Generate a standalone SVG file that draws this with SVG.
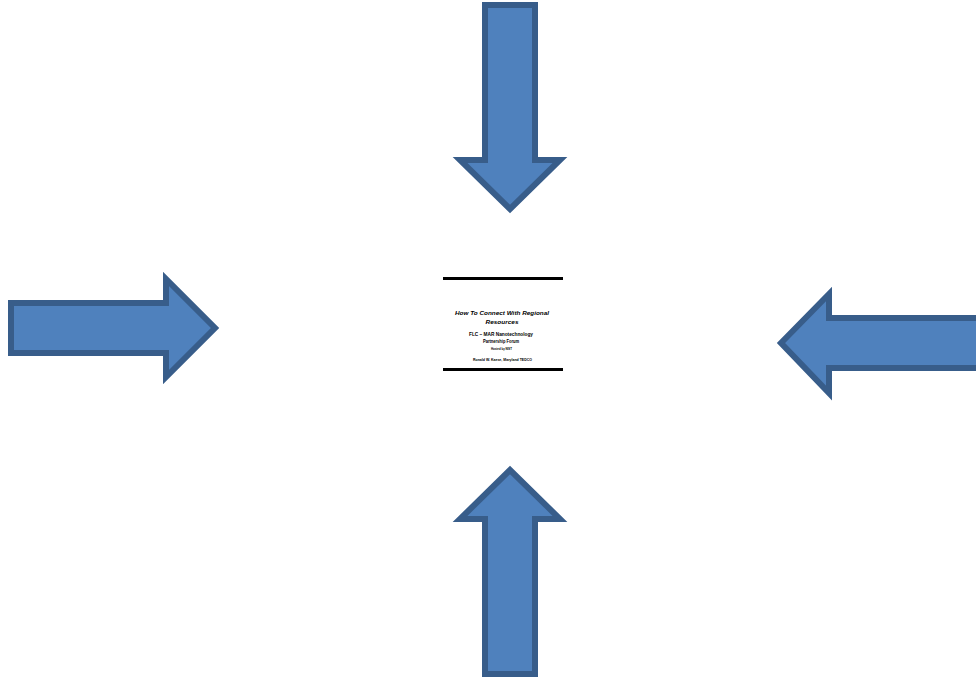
<svg xmlns="http://www.w3.org/2000/svg" width="976" height="679" viewBox="0 0 976 679">
<style>
.arrow{fill:#4f81bd;stroke:#385d8a;stroke-width:6;stroke-linejoin:miter}
.rule{stroke:#000;stroke-width:3}
.t{font-family:"Liberation Sans",Arial,sans-serif;text-anchor:middle;fill:#000}
</style>
<rect width="976" height="679" fill="#fff"/>
<g id="arrow-top"><polygon class="arrow" points="485,5 535,5 535,160 560,160 510,209 460,160 485,160"/></g>
<g id="arrow-left"><polygon class="arrow" points="11,303 166,303 166,279 215,328 166,377 166,353 11,353"/></g>
<g id="arrow-right"><polygon class="arrow" points="980,318 829,318 829,294 781,343 829,393 829,368 980,368"/></g>
<g id="arrow-bottom"><polygon class="arrow" points="485,674 535,674 535,519 560,519 510,470 460,519 485,519"/></g>
<g id="slide">
<line class="rule" x1="443" y1="278.5" x2="563" y2="278.5"/>
<line class="rule" x1="443" y1="369.5" x2="563" y2="369.5"/>
<text class="t" x="502" y="315" font-size="6.2" font-weight="bold" font-style="italic" textLength="94" lengthAdjust="spacingAndGlyphs">How To Connect With Regional</text>
<text class="t" x="502" y="324" font-size="6.2" font-weight="bold" font-style="italic" textLength="33" lengthAdjust="spacingAndGlyphs">Resources</text>
<text class="t" x="501" y="335.5" font-size="4.6" font-weight="bold" textLength="64" lengthAdjust="spacingAndGlyphs">FLC – MAR Nanotechnology</text>
<text class="t" x="501" y="342.5" font-size="4.6" font-weight="bold" textLength="36" lengthAdjust="spacingAndGlyphs">Partnership Forum</text>
<text class="t" x="501.5" y="350" font-size="3.6" font-weight="bold" textLength="21" lengthAdjust="spacingAndGlyphs">Hosted by NIST</text>
<text class="t" x="502.5" y="361" font-size="3.6" font-weight="bold" textLength="59" lengthAdjust="spacingAndGlyphs">Ronald W. Kaese, Maryland TEDCO</text>
</g>
</svg>
